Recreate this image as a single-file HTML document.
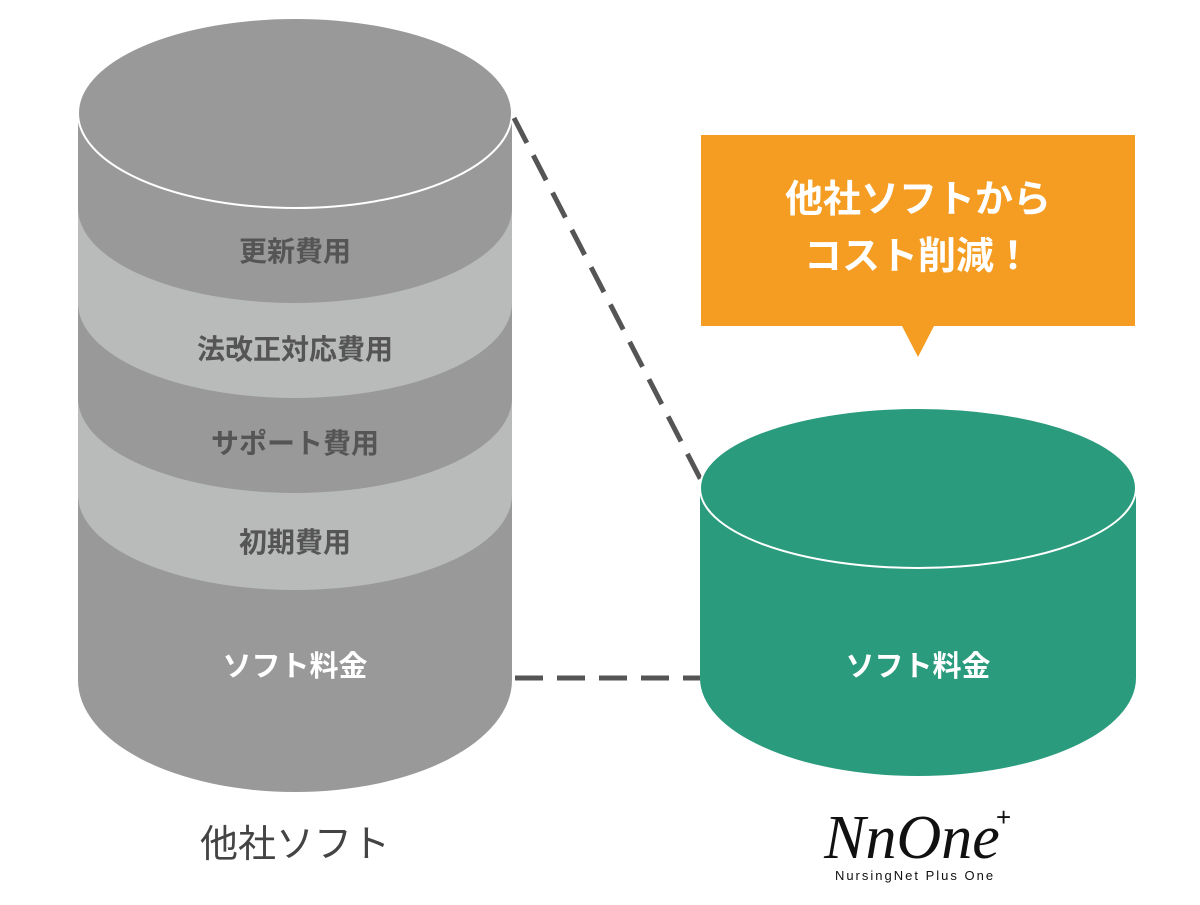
<!DOCTYPE html>
<html><head><meta charset="utf-8"><style>
body{margin:0;background:#fff;}
svg text{font-family:"Liberation Sans","Noto Sans CJK JP",sans-serif;}
</style></head><body>
<svg width="1200" height="900" viewBox="0 0 1200 900" xmlns="http://www.w3.org/2000/svg">
<!-- left cylinder -->
<rect x="78" y="113" width="434" height="567" fill="#999999"/>
<ellipse cx="295" cy="680" rx="217" ry="112" fill="#999999"/>
<rect x="78" y="113" width="434" height="382" fill="#b9bbba"/>
<ellipse cx="295" cy="495" rx="217" ry="95" fill="#b9bbba"/>
<rect x="78" y="113" width="434" height="285" fill="#999999"/>
<ellipse cx="295" cy="398" rx="217" ry="95" fill="#999999"/>
<rect x="78" y="113" width="434" height="190" fill="#b9bbba"/>
<ellipse cx="295" cy="303" rx="217" ry="95" fill="#b9bbba"/>
<rect x="78" y="113" width="434" height="95" fill="#999999"/>
<ellipse cx="295" cy="208" rx="217" ry="95" fill="#999999"/>
<ellipse cx="295" cy="113" rx="217" ry="95" fill="#999999" stroke="#fff" stroke-width="2"/>
<g font-size="28" font-weight="bold" fill="#555" text-anchor="middle">
<text x="295" y="261">更新費用</text>
<text x="295" y="359">法改正対応費用</text>
<text x="295" y="453">サポート費用</text>
<text x="295" y="552">初期費用</text>
</g>
<text x="295" y="676" font-size="29" font-weight="bold" fill="#fff" text-anchor="middle">ソフト料金</text>
<!-- dashed -->
<line x1="514" y1="118" x2="702" y2="482" stroke="#555" stroke-width="5" stroke-dasharray="28 14"/>
<line x1="515" y1="678" x2="700" y2="678" stroke="#555" stroke-width="5" stroke-dasharray="28 14"/>
<!-- right cylinder -->
<rect x="700" y="488" width="436" height="190" fill="#2a9b7c"/>
<ellipse cx="918" cy="678" rx="218" ry="98" fill="#2a9b7c"/>
<ellipse cx="918" cy="488" rx="218" ry="80" fill="#2a9b7c" stroke="#fff" stroke-width="2"/>
<text x="918" y="676" font-size="29" font-weight="bold" fill="#fff" text-anchor="middle">ソフト料金</text>
<!-- callout -->
<rect x="701" y="135" width="434" height="191" fill="#f59d23"/>
<polygon points="902,326 934,326 918,357" fill="#f59d23"/>
<g font-size="38" font-weight="bold" fill="#fff" text-anchor="middle">
<text x="918" y="212">他社ソフトから</text>
<text x="918" y="269">コスト削減！</text>
</g>
<!-- labels -->
<text x="295" y="857" font-size="38" fill="#444" text-anchor="middle">他社ソフト</text>
<text x="912" y="858" font-size="62" font-style="italic" fill="#111" text-anchor="middle" style="font-family:'Liberation Serif',serif">NnOne</text>
<text x="996" y="826" font-size="26" fill="#111">+</text>
<text x="915" y="880" font-size="13" fill="#111" text-anchor="middle" letter-spacing="2">NursingNet Plus One</text>
</svg>
</body></html>
